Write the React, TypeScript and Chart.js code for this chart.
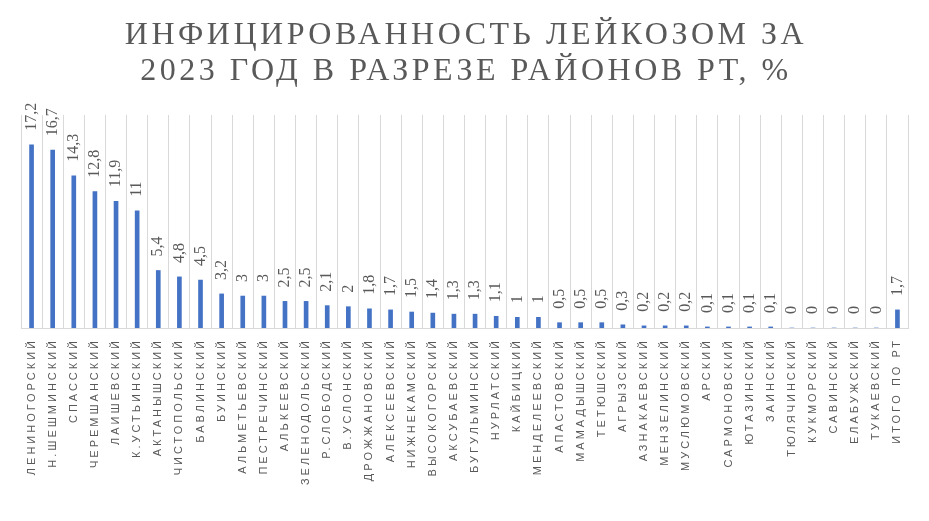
import React, { useEffect, useRef } from "react";
import { Chart, registerables } from "chart.js";

Chart.register(...registerables);

const titleLines = ["ИНФИЦИРОВАННОСТЬ ЛЕЙКОЗОМ ЗА", "2023 ГОД В РАЗРЕЗЕ РАЙОНОВ РТ, %"];

const districts = [
  "ЛЕНИНОГОРСКИЙ", "Н.ШЕШМИНСКИЙ", "СПАССКИЙ", "ЧЕРЕМШАНСКИЙ", "ЛАИШЕВСКИЙ",
  "К.УСТЬИНСКИЙ", "АКТАНЫШСКИЙ", "ЧИСТОПОЛЬСКИЙ", "БАВЛИНСКИЙ", "БУИНСКИЙ",
  "АЛЬМЕТЬЕВСКИЙ", "ПЕСТРЕЧИНСКИЙ", "АЛЬКЕЕВСКИЙ", "ЗЕЛЕНОДОЛЬСКИЙ", "Р.СЛОБОДСКИЙ",
  "В.УСЛОНСКИЙ", "ДРОЖЖАНОВСКИЙ", "АЛЕКСЕЕВСКИЙ", "НИЖНЕКАМСКИЙ", "ВЫСОКОГОРСКИЙ",
  "АКСУБАЕВСКИЙ", "БУГУЛЬМИНСКИЙ", "НУРЛАТСКИЙ", "КАЙБИЦКИЙ", "МЕНДЕЛЕЕВСКИЙ",
  "АПАСТОВСКИЙ", "МАМАДЫШСКИЙ", "ТЕТЮШСКИЙ", "АГРЫЗСКИЙ", "АЗНАКАЕВСКИЙ",
  "МЕНЗЕЛИНСКИЙ", "МУСЛЮМОВСКИЙ", "АРСКИЙ", "САРМОНОВСКИЙ", "ЮТАЗИНСКИЙ",
  "ЗАИНСКИЙ", "ТЮЛЯЧИНСКИЙ", "КУКМОРСКИЙ", "САВИНСКИЙ", "ЕЛАБУЖСКИЙ",
  "ТУКАЕВСКИЙ", "ИТОГО ПО РТ",
];

const infection = [
  17.2, 16.7, 14.3, 12.8, 11.9,
  11, 5.4, 4.8, 4.5, 3.2,
  3, 3, 2.5, 2.5, 2.1,
  2, 1.8, 1.7, 1.5, 1.4,
  1.3, 1.3, 1.1, 1, 1,
  0.5, 0.5, 0.5, 0.3, 0.2,
  0.2, 0.2, 0.1, 0.1, 0.1,
  0.1, 0, 0, 0, 0,
  0, 1.7,
];

const GRAY = "#595959";

const spacingPlugin = {
  id: "spacing",
  beforeDraw(chart: any) {
    (chart.ctx as any).letterSpacing = "3px";
  },
};

const labelPlugin = {
  id: "valueLabels",
  afterDatasetsDraw(chart: any) {
    const ctx = chart.ctx;
    const meta = chart.getDatasetMeta(0);
    ctx.save();
    (ctx as any).letterSpacing = "0px";
    ctx.fillStyle = GRAY;
    ctx.font = '16px "Liberation Serif"';
    ctx.textAlign = "left";
    ctx.textBaseline = "middle";
    meta.data.forEach((bar: any, i: number) => {
      const v = infection[i];
      const text = String(v).replace(".", ",");
      ctx.save();
      ctx.translate(bar.x, bar.y - 14);
      ctx.rotate(-Math.PI / 2);
      ctx.fillText(text, 0, 0);
      ctx.restore();
    });
    ctx.restore();
  },
};

export default function App() {
  const ref = useRef<HTMLCanvasElement | null>(null);

  useEffect(() => {
    if (!ref.current) return;
    const chart = new Chart(ref.current, {
      type: "bar",
      data: {
        labels: districts,
        datasets: [
          {
            data: infection,
            backgroundColor: "#4472C4",
            barThickness: 4,
          },
        ],
      },
      options: {
        animation: false,
        responsive: false,
        maintainAspectRatio: false,
        layout: { padding: { top: 115, left: 21, right: 21, bottom: 0 } },
        plugins: {
          legend: { display: false },
          title: { display: false },
          tooltip: { enabled: false },
        },
        scales: {
          x: {
            offset: true,
            grid: {
              display: true,
              offset: true,
              color: "#d9d9d9",
              lineWidth: 1,
              drawTicks: false,
            },
            border: { display: true, color: "#d9d9d9" },
            ticks: {
              autoSkip: false,
              maxRotation: 90,
              minRotation: 90,
              padding: 10,
              color: GRAY,
              font: { family: '"Liberation Sans"', size: 11 },
            },
            afterFit(scale: any) {
              scale.height = 193;
            },
          },
          y: {
            display: false,
            min: 0,
            max: 20,
          },
        },
      },
      plugins: [spacingPlugin, labelPlugin],
    });
    return () => chart.destroy();
  }, []);

  return (
    <div style={{ position: "fixed", left: 0, top: 0, width: 929, height: 521, background: "#fff" }}>
      <canvas ref={ref} width={929} height={521} style={{ width: 929, height: 521, display: "block" }} />
      <div
        style={{
          position: "absolute",
          left: 0,
          top: 15,
          width: 929,
          textAlign: "center",
          fontFamily: '"Liberation Serif", serif',
          fontSize: 32,
          lineHeight: "36px",
          letterSpacing: "3.5px",
          paddingLeft: 3,
          boxSizing: "border-box",
          color: GRAY,
        }}
      >
        {titleLines.map((l) => (
          <div key={l}>{l}</div>
        ))}
      </div>
    </div>
  );
}
